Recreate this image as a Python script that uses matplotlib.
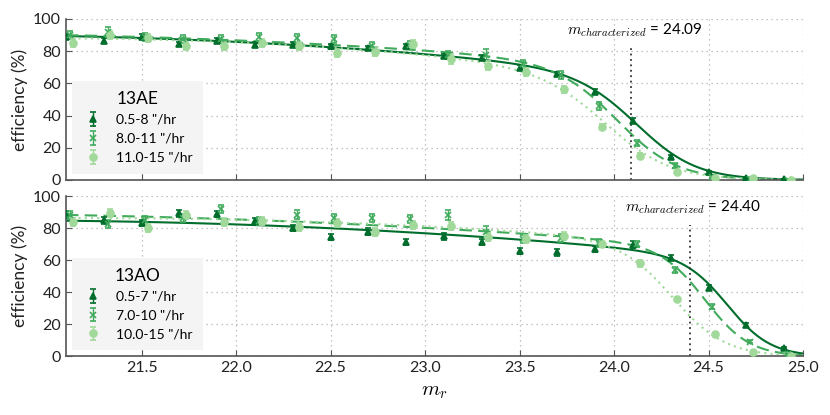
import numpy as np
import matplotlib.pyplot as plt

plt.rcParams['font.family'] = ['Lato', 'DejaVu Sans']
plt.rcParams['mathtext.fontset'] = 'cm'

# magnitude bins (centres), each rate bin is shifted a little for clarity
mag = [21.1, 21.3, 21.5, 21.7, 21.9, 22.1, 22.3, 22.5, 22.7, 22.9,
       23.1, 23.3, 23.5, 23.7, 23.9, 24.1, 24.3, 24.5, 24.7, 24.9]
shifts = [0.0, 0.02, 0.035]

# ---- 13AE ----
ae_labels = ['0.5-8 "/hr', '8.0-11 "/hr', '11.0-15 "/hr']
ae_eff = [
    [89, 86.5, 89, 84.5, 86.5, 84, 84, 83, 82, 83.2,
     77, 76, 69.8, 65.8, 54.8, 36.8, 14.5, 4.8, 1.0, 0.6],
    [90, 92, 89, 87.6, 87.6, 89, 88, 87.4, 83, 84,
     77.6, 77.6, 71.9, 65.2, 46, 22.8, 8.9, 2.0, 0.5, 0.2],
    [85.3, 90, 88, 83.2, 83.2, 85.3, 83.2, 79, 79.7, 84.5,
     75, 71, 67.3, 56.3, 33, 15, 5.2, 1.4, 1.4, 0.2],
]
ae_err = [
    [1.5, 1.5, 1.5, 1.5, 1.5, 1.5, 1.5, 1.5, 1.5, 1.5,
     1.5, 1.5, 1.5, 1.5, 1.5, 1.5, 1.0, 0.8, 0.4, 0.3],
    [2.5, 3.0, 2.5, 2.5, 2.5, 2.5, 2.5, 2.5, 2.5, 2.5,
     2.5, 3.5, 2.5, 2.5, 2.5, 2.0, 1.5, 0.8, 0.4, 0.3],
    [2.5, 2.5, 2.5, 2.5, 2.5, 2.5, 2.5, 2.5, 2.5, 2.5,
     3.0, 3.0, 2.5, 2.0, 2.0, 1.5, 1.0, 0.6, 0.5, 0.3],
]
# fit parameters: eta0, eta1, eta2, m50, width
ae_fit = [(89.6, 1.92, 1.9, 24.14, 0.16),
          (90.2, 2.08, 1.4, 24.03, 0.16),
          (88.0, 0.0, 2.57, 23.98, 0.174)]
ae_mchar = 24.09

# ---- 13AO ----
ao_labels = ['0.5-7 "/hr', '7.0-10 "/hr', '10.0-15 "/hr']
ao_eff = [
    [88.5, 84.8, 83, 89.2, 88.8, 84.2, 80, 74.6, 77.8, 71.3,
     74.8, 71.5, 65.7, 64.9, 66.8, 69.7, 61.6, 42.9, 19.6, 5.1],
    [88, 82.3, 85.3, 86, 92, 84.5, 88.4, 86, 86.3, 85.5,
     88.2, 77.8, 73, 74, 70.5, 70, 53.9, 31, 9.2, 1.4],
    [84, 89.6, 79.9, 88.2, 84, 84.4, 80.5, 83, 77.8, 82,
     81.3, 74.3, 73, 75, 70.1, 58, 35.8, 13.8, 3.0, 0.5],
]
ao_err = [
    [2.0, 2.0, 2.0, 2.0, 2.0, 2.0, 2.0, 2.0, 2.0, 2.0,
     2.0, 2.0, 2.0, 2.0, 2.0, 2.0, 1.5, 1.5, 1.0, 0.5],
    [2.5, 2.5, 2.5, 2.5, 2.5, 2.5, 3.0, 2.5, 2.5, 2.5,
     3.0, 3.5, 2.5, 2.5, 2.5, 2.0, 2.0, 1.5, 1.0, 0.3],
    [2.5, 2.5, 2.5, 2.5, 2.5, 2.5, 2.5, 2.5, 2.5, 2.5,
     2.5, 2.5, 2.5, 2.5, 2.0, 2.0, 1.5, 1.0, 0.5, 0.3],
]
ao_fit = [(84.7, 0.84, 1.56, 24.61, 0.115),
          (88.4, 1.84, 1.14, 24.49, 0.118),
          (86.2, -0.6, 1.56, 24.32, 0.14)]
ao_mchar = 24.40

colors = ['#006d2c', '#41ab5d', '#a1d99b']
markers = ['^', 'x', 'o']
linestyles = ['-', (0, (6, 3)), (0, (1, 2))]


def eff_model(m, eta0, eta1, eta2, m50, w):
    d = m - 21.0
    return (eta0 - eta1 * d - eta2 * d ** 2) / (1.0 + np.exp((m - m50) / w))


def draw_panel(ax, title, labels, effs, errs, fits, mchar):
    mm = np.linspace(21.1, 25.0, 500)
    handles = []
    for i in range(3):
        x = np.array(mag) + shifts[i]
        h = ax.errorbar(x, effs[i], yerr=errs[i], fmt=markers[i], color=colors[i],
                        ms=5, mew=1.2, elinewidth=1, capsize=2, label=labels[i], zorder=3)
        handles.append(h)
        ax.plot(mm, eff_model(mm, *fits[i]), color=colors[i], ls=linestyles[i],
                lw=1.5, zorder=2)
    ax.axvline(mchar, ymin=0, ymax=0.82, color='#333333', ls=(0, (1, 2)), lw=1.3)
    ax.text(mchar - 0.34, 93, r'$m_{characterized}$' + ' = %.2f' % mchar,
            fontsize=11, ha='left', va='center')
    leg = ax.legend(handles=handles, title=title, loc='lower left',
                    bbox_to_anchor=(0.008, 0.04), borderaxespad=0, fontsize=10,
                    title_fontsize=12.5, frameon=True, fancybox=False,
                    handlelength=1.6, handletextpad=0.9, borderpad=0.7,
                    labelspacing=0.5)
    leg.get_frame().set_facecolor('#f4f4f4')
    leg.get_frame().set_edgecolor('none')
    leg.get_frame().set_alpha(1)

    ax.set_xlim(21.1, 25.0)
    ax.set_ylim(0, 100)
    ax.set_yticks([0, 20, 40, 60, 80, 100])
    ax.set_xticks([21.5, 22.0, 22.5, 23.0, 23.5, 24.0, 24.5, 25.0])
    ax.grid(True, ls=(0, (1, 3)), color='#b0b0b0', lw=0.9)
    ax.set_axisbelow(True)
    for s in ['top', 'right']:
        ax.spines[s].set_visible(False)
    for s in ['left', 'bottom']:
        ax.spines[s].set_color('#555555')
        ax.spines[s].set_linewidth(1.2)
    ax.tick_params(direction='in', length=4, color='#555555', labelsize=11.5,
                   labelcolor='#222222')
    ax.set_ylabel('efficiency (%)', fontsize=12.5, color='#222222')


fig = plt.figure(figsize=(8.3, 4.15), dpi=100)
ax1 = fig.add_axes([0.0795, 0.5663, 0.888, 0.388])
ax2 = fig.add_axes([0.0795, 0.1410, 0.888, 0.3867], sharex=ax1)

draw_panel(ax1, '13AE', ae_labels, ae_eff, ae_err, ae_fit, ae_mchar)
draw_panel(ax2, '13AO', ao_labels, ao_eff, ao_err, ao_fit, ao_mchar)
plt.setp(ax1.get_xticklabels(), visible=False)
ax2.set_xlabel(r'$m_r$', fontsize=15)

fig.savefig('out.png', dpi=100)
